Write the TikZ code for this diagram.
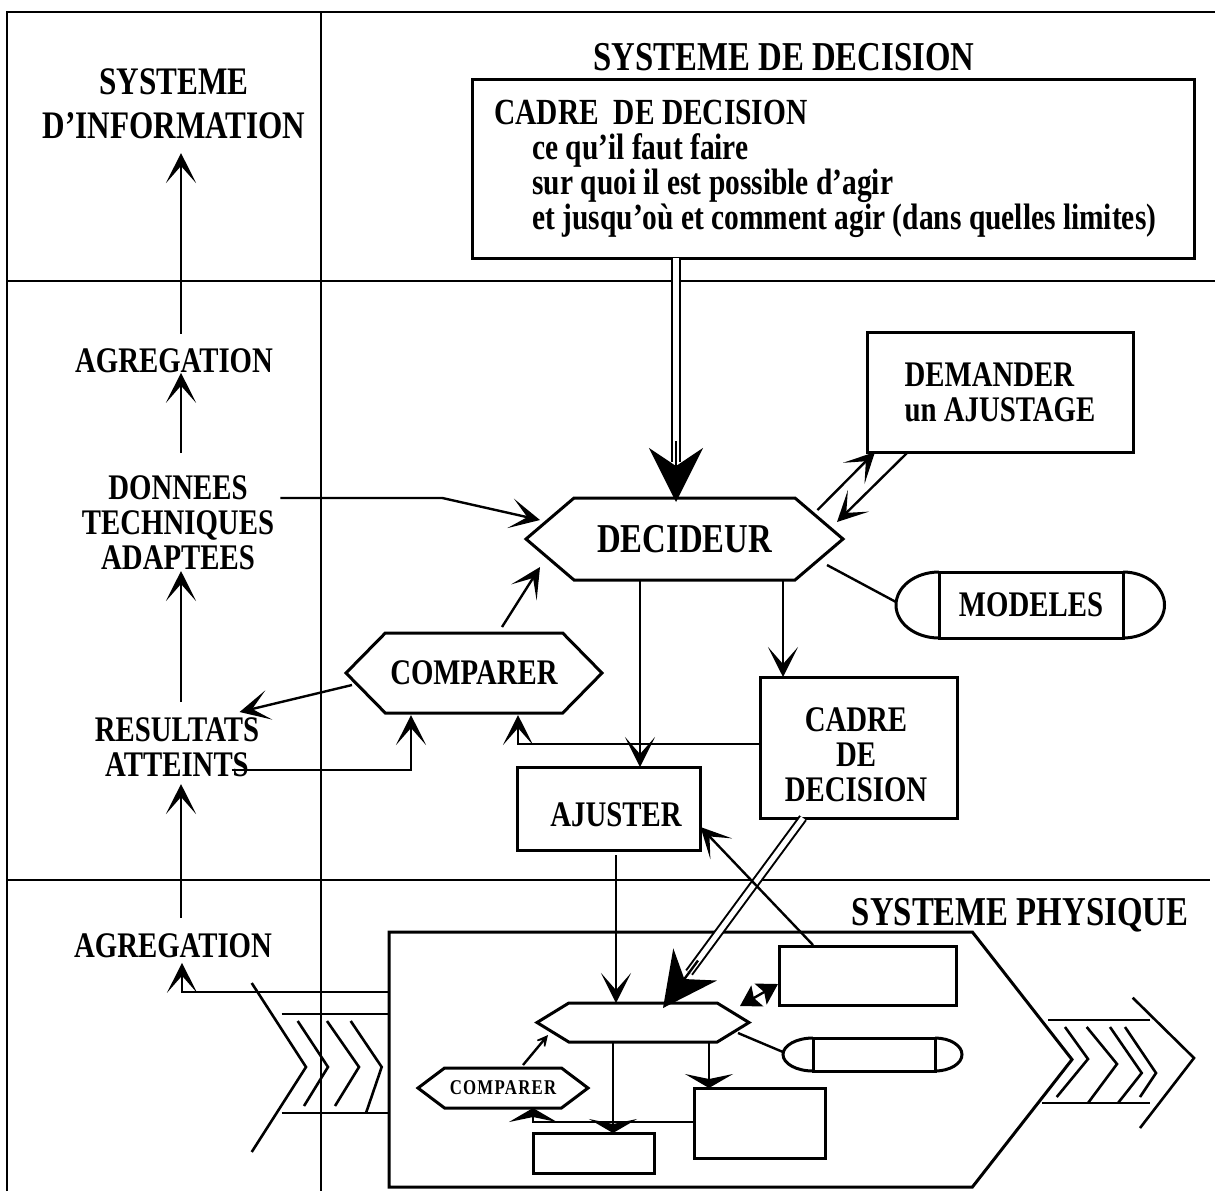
\documentclass[tikz,border=0pt]{standalone}
\usepackage{fontspec}
\setmainfont{Liberation Serif}[UprightFont=* Bold,FakeStretch=0.8]
\usetikzlibrary{arrows.meta,calc,shapes.symbols}

\begin{document}
\begin{tikzpicture}[
    x=0.5pt,y=-0.5pt,
    >={Stealth[length=15pt,width=15pt,inset=8.5pt,line width=1.6pt]},
    frm/.style={line width=1.3pt},
    txt/.style={inner sep=0,align=center,font=\fontsize{18}{17.5}\selectfont},
    ttl/.style={inner sep=0,font=\fontsize{20.5}{22}\selectfont},
    box/.style={draw,line width=1.5pt,inner sep=0,outer sep=0,align=center,font=\fontsize{18}{17.5}\selectfont},
    hex/.style={draw,line width=1.5pt,shape=signal,signal to=west and east,inner sep=0,outer sep=0},
    arr/.style={->,line width=1.2pt},
    dbl/.style={double,double distance=2.6pt,line width=1pt},
    bigtip/.style={-{Stealth[length=27pt,width=27pt,inset=9pt]},line width=1.2pt},
    flat/.style={-{Stealth[length=7pt,width=24pt,inset=2.5pt,line width=1.6pt]},line width=1.2pt},
    mini/.style={{Stealth[length=10pt,width=12pt,inset=2pt]}-{Stealth[length=10pt,width=12pt,inset=2pt]},line width=1.2pt}
    ]
    \useasboundingbox (0,0) rectangle (1215,1191);

    % frame
    \draw[frm] (7,1191) -- (7,12) -- (1215,12);
    \draw[frm] (7,281) -- (1215,281);
    \draw[frm] (7,880) -- (1210,880);
    \draw[frm] (321,12) -- (321,1191);
    \coordinate (spine) at (181,0);

    % information side
    \node[txt,anchor=north,font=\fontsize{19.5}{22}\selectfont] (info) at (174,68) {SYSTEME\\D'INFORMATION};
    \node[txt,anchor=base] (agrsup) at (174,372) {AGREGATION};
    \node[txt,anchor=north] (donnees) at (178,475) {DONNEES\\TECHNIQUES\\ADAPTEES};
    \node[txt,anchor=north] (resultats) at (177,717) {RESULTATS\\ATTEINTS};
    \node[txt,anchor=base] (agrinf) at (173,957) {AGREGATION};

    % decision side
    \node[ttl,anchor=base] (decision) at (784,70) {SYSTEME DE DECISION};
    \node[box,minimum width=361pt,minimum height=89.5pt] (cadre) at (833,168.5) {};
    \node[txt,align=left,anchor=north west,font=\fontsize{18.4}{17.5}\selectfont] (cadretxt) at (494,100) {CADRE\hspace{0.4em}DE DECISION\\
      \hspace*{19pt}ce qu'il faut faire\\
      \hspace*{19pt}sur quoi il est possible d'agir\\
      \hspace*{19pt}et jusqu'où et comment agir (dans quelles limites)};
    \node[hex,minimum width=158.5pt,minimum height=41pt,signal pointer angle=81,font=\fontsize{20.5}{22}\selectfont] (dec) at (684.5,539) {DECIDEUR};
    \node[box,align=left,minimum width=133pt,minimum height=60pt] (dem) at (1000,392) {DEMANDER\\un AJUSTAGE};
    \node[box,minimum width=92pt,minimum height=33pt] (mod) at (1031,605) {MODELES};
    \draw[line width=1.5pt] (mod.north west) arc[start angle=90,end angle=270,x radius=21.5pt,y radius=16.5pt];
    \draw[line width=1.5pt] (mod.north east) arc[start angle=90,end angle=-90,x radius=20.75pt,y radius=16.5pt];
    \node[hex,minimum width=128pt,minimum height=40pt,signal pointer angle=91,font=\fontsize{18}{17.5}\selectfont] (comp) at (474,673) {COMPARER};
    \node[box,minimum width=98.5pt,minimum height=70.5pt] (cadrebis) at (859,747.5) {};
    \node[txt] (cadrebistxt) at (856,755) {CADRE\\DE\\DECISION};
    \node[box,minimum width=91.5pt,minimum height=41.5pt] (ajuster) at (609,808.5) {};
    \node[txt] (ajustertxt) at (616,815) {AJUSTER};

    % physical side
    \node[ttl,anchor=base] (physique) at (1020,925) {SYSTEME PHYSIQUE};
    \node[draw,line width=1.5pt,shape=signal,signal to=east,inner sep=0,outer sep=0,minimum width=341.5pt,minimum height=127.5pt,signal pointer angle=104,anchor=west] (phys) at (389,1059.5) {};
    \node[hex,minimum width=106pt,minimum height=19.5pt,signal pointer angle=63] (hexS) at (643,1022.5) {};
    \node[box,minimum width=88.5pt,minimum height=29.5pt] (rectA) at (867.5,975.5) {};
    \node[box,minimum width=61pt,minimum height=16.5pt] (pillS) at (874,1054.5) {};
    \draw[line width=1.5pt] (pillS.north west) arc[start angle=90,end angle=270,x radius=15pt,y radius=8.25pt];
    \draw[line width=1.5pt] (pillS.north east) arc[start angle=90,end angle=-90,x radius=13.5pt,y radius=8.25pt];
    \node[hex,minimum width=85pt,minimum height=20pt,signal pointer angle=74,font=\fontsize{10.5}{11}\selectfont\addfontfeature{LetterSpace=6}] (compS) at (503,1088) {COMPARER};
    \node[box,minimum width=60.8pt,minimum height=20pt] (rectB) at (594,1153) {};
    \node[box,minimum width=65.3pt,minimum height=35pt] (rectC) at (760,1123) {};

    % chevrons
    \draw[frm] (251.7,983) -- (306,1067) -- (251.7,1152);
    \draw[frm] (281.7,1014) -- (388,1014);
    \draw[frm] (281.7,1113) -- (388,1113);
    \draw[frm] (297.7,1021) -- (328,1067) -- (304,1106);
    \draw[frm] (327,1021) -- (359,1067) -- (335,1106);
    \draw[frm] (350.7,1021) -- (381.7,1067) -- (366,1113);
    \draw[frm] (1048,1020) -- (1150,1020);
    \draw[frm] (1041.7,1103) -- (1150,1103);
    \draw[frm] (1065,1027) -- (1088,1059) -- (1056.7,1097);
    \draw[frm] (1086.7,1027) -- (1117,1064) -- (1088,1103);
    \draw[frm] (1110,1027) -- (1141.7,1073) -- (1118,1103);
    \draw[frm] (1125,1027) -- (1156,1073) -- (1140,1097);
    \draw[frm] (1132.7,997.7) -- (1194,1058) -- (1140,1128);

    % information flow
    \draw[arr] ($(agrsup.north -| spine)+(0,-14)$) -- ($(info.south -| spine)+(0,14)$);
    \draw[arr] ($(donnees.north -| spine)+(0,-22)$) -- (agrsup.south -| spine);
    \draw[arr] ($(resultats.north -| spine)+(0,-15)$) -- ($(donnees.south -| spine)+(0,1)$);
    \draw[arr] ($(agrinf.north -| spine)+(0,-15)$) -- ($(resultats.south -| spine)+(0,7)$);
    \draw[arr] ($(phys.west)+(0,-67.5)$) -| ($(agrinf.south)+(9,5)$);

    % decision flow
    \coordinate (dtop) at ($(cadre.south)+(-157,0)$);
    \coordinate (dend) at ($(dec.north)+(-8.5,4)$);
    \draw[dbl,shorten >=20pt] (dtop) -- (dend);
    \draw[bigtip] ($(dtop)!0.75!(dend)$) -- (dend);
    \draw[arr] ($(donnees.north east)+(6,23)$) -- ++(162,0) -- ($(dec.center)+(-144.5,-19)$);
    \draw[arr] ($(comp.north)+(28,-6)$) -- ($(dec.center)+(-144.5,28)$);
    \draw[arr] ($(comp.west)+(6,12)$) -- ($(resultats.north east)+(-20,-5)$);
    \draw[arr] ($(resultats.south east)+(-28,-7)$) -| ($(comp.south)+(-63,2)$);
    \draw[arr] ($(dec.center)+(133,-29)$) -- ($(dem.south west)+(8,0)$);
    \draw[arr] ($(dem.south west)+(41,0)$) -- ($(dec.center)+(152.5,-17)$);
    \draw[line width=1.2pt] ($(dec.center)+(142.5,26)$) -- ($(mod.west)+(-43,-3)$);
    \draw[arr] ($(dec.south)+(-44.5,0)$) -- ($(ajuster.north)+(31,0)$);
    \draw[arr] ($(dec.south)+(98.5,0)$) -- ($(cadrebis.north)+(-76,0)$);
    \draw[arr] ($(cadrebis.west)+(0,-3.5)$) -| ($(comp.south)+(44,2)$);

    % physical flow
    \draw[arr] ($(ajuster.south)+(7,5)$) -- ($(hexS.north)+(-27,0)$);
    \coordinate (ptop) at ($(cadrebis.south)+(-56,0)$);
    \coordinate (pend) at ($(hexS.north)+(20,5)$);
    \draw[dbl,shorten >=22pt] (ptop) -- (pend);
    \draw[bigtip] ($(ptop)!0.75!(pend)$) -- (pend);
    \draw[arr] ($(rectA.north west)+(34,-1)$) -- ($(ajuster.east)+(0,18.5)$);
    \draw[mini] ($(hexS.center)+(97,-16.5)$) -- ($(rectA.west)+(-1,8.5)$);
    \draw[line width=1.2pt] ($(hexS.center)+(95,10.5)$) -- ($(pillS.west)+(-30,-2.5)$);
    \draw[flat] ($(hexS.south)+(-30,0)$) -- ($(rectB.north)+(19,0)$);
    \draw[flat] ($(hexS.south)+(66,0)$) -- ($(rectC.north)+(-51,0)$);
    \draw[flat] ($(rectC.west)+(0,-1)$) -| ($(compS.south)+(30,0)$);
    \draw[->,line width=1.2pt,>={Stealth[length=9pt,width=9pt,inset=6pt]}] ($(compS.north)+(20,-3)$) -- ($(hexS.center)+(-95,12.5)$);
\end{tikzpicture}
\end{document}
